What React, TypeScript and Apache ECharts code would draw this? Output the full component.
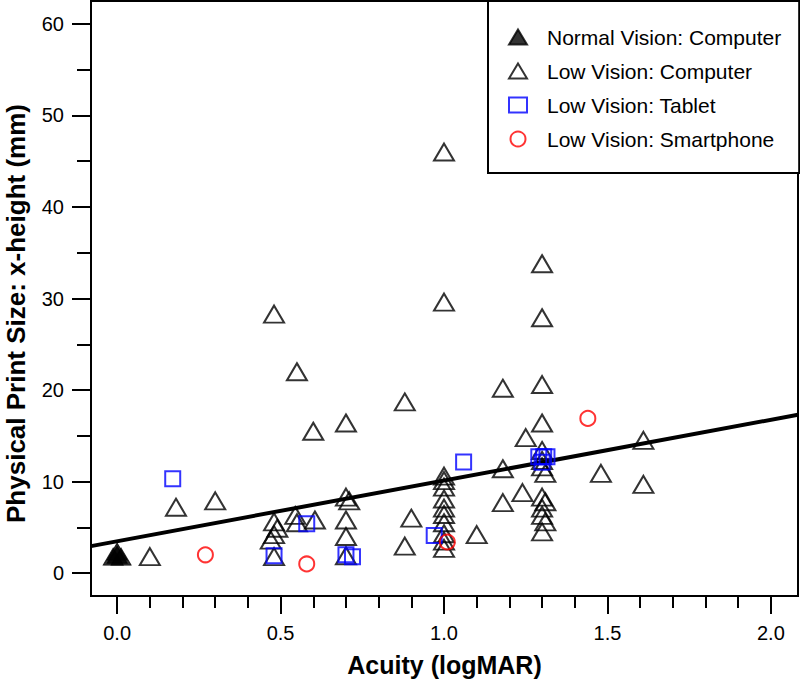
import React, { useEffect, useRef } from "react";
import * as echarts from "echarts";

// ---- data ----
const normalComputer: number[][] = [
  [0, 2.35], [-0.012, 1.8], [0.012, 1.8], [0, 2.0],
];

const lowComputer: number[][] = [
  [0.10, 1.8], [0.18, 7.2], [0.30, 7.9],
  [0.48, 28.3], [0.55, 22.0], [0.60, 15.5], [0.70, 16.4], [0.88, 18.7],
  [0.48, 5.6], [0.49, 4.9], [0.48, 4.2], [0.47, 3.6], [0.48, 1.8],
  [0.545, 6.3], [0.55, 5.5], [0.605, 5.8],
  [0.70, 8.3], [0.71, 7.9], [0.70, 5.8], [0.70, 4.0], [0.70, 1.9],
  [0.88, 2.95], [0.90, 6.0],
  [1.0, 46.0], [1.0, 29.6], [1.0, 10.6], [1.0, 10.1], [1.0, 9.4], [1.0, 8.1],
  [1.0, 7.1], [1.0, 6.4], [1.0, 5.5], [1.0, 4.3], [1.0, 3.5], [1.0, 2.7],
  [1.10, 4.2], [1.18, 7.7], [1.18, 11.4], [1.18, 20.2], [1.25, 14.8], [1.24, 8.8],
  [1.30, 33.8], [1.30, 27.9], [1.30, 20.6], [1.30, 16.4], [1.30, 13.4], [1.30, 12.3],
  [1.30, 11.6], [1.31, 10.9], [1.30, 8.3], [1.31, 7.8], [1.30, 7.1], [1.30, 6.3],
  [1.31, 5.6], [1.30, 4.5],
  [1.48, 10.9], [1.61, 14.5], [1.61, 9.7],
];

const lowTablet: number[][] = [
  [0.17, 10.3], [0.48, 1.9], [0.58, 5.4], [0.70, 2.0], [0.72, 1.8],
  [0.97, 4.1], [1.06, 12.15], [1.29, 12.7], [1.30, 12.1], [1.305, 12.7], [1.315, 12.7],
];

const lowSmartphone: number[][] = [
  [0.27, 2.0], [0.58, 1.0], [1.01, 3.4], [1.44, 16.9],
];

const fitLineX = [-0.08, 2.083];
const fitLineY = [2.95, 17.3];

const xMajorTicks = [0, 0.5, 1.0, 1.5, 2.0];
const xMinorTicks = [0.1, 0.2, 0.3, 0.4, 0.6, 0.7, 0.8, 0.9, 1.1, 1.2, 1.3, 1.4, 1.6, 1.7, 1.8, 1.9];
const yMajorTicks = [0, 10, 20, 30, 40, 50, 60];
const yMinorTicks = [5, 15, 25, 35, 45, 55];

const seriesNames = [
  "Normal Vision: Computer",
  "Low Vision: Computer",
  "Low Vision: Tablet",
  "Low Vision: Smartphone",
];

const FONT = "'Liberation Sans', Arial, Helvetica, sans-serif";

export default function App() {
  const ref = useRef<HTMLDivElement>(null);

  useEffect(() => {
    if (!ref.current) return;
    const chart = echarts.init(ref.current, undefined, { renderer: "svg" });

    const xCommon = {
      type: "value" as const,
      min: -0.08,
      max: 2.083,
      position: "bottom" as const,
      splitLine: { show: false },
      axisLine: { show: false, onZero: false },
    };
    const yCommon = {
      type: "value" as const,
      min: -2.5,
      max: 62.5,
      position: "left" as const,
      splitLine: { show: false },
      axisLine: { show: false, onZero: false },
    };

    const option: any = {
      animation: false,
      backgroundColor: "#fff",
      textStyle: { fontFamily: FONT },
      grid: {
        left: 91,
        right: 2,
        top: 1,
        bottom: 85,
        show: true,
        borderColor: "#000",
        borderWidth: 2,
        containLabel: false,
        outerBoundsMode: "none",
      },
      xAxis: [
        {
          ...xCommon,
          name: "Acuity (logMAR)",
          nameLocation: "middle",
          nameGap: 56,
          nameTextStyle: { fontSize: 25, fontWeight: "bold", color: "#000", fontFamily: FONT },
          axisTick: { show: true, length: 18, lineStyle: { color: "#000", width: 2 }, customValues: xMajorTicks },
          axisLabel: {
            show: true,
            margin: 27,
            fontSize: 20,
            color: "#000",
            fontFamily: FONT,
            customValues: xMajorTicks,
            formatter: (v: number) => v.toFixed(1),
          },
        },
        {
          ...xCommon,
          axisTick: { show: true, length: 12, lineStyle: { color: "#000", width: 2 }, customValues: xMinorTicks },
          axisLabel: { show: false },
        },
      ],
      yAxis: [
        {
          ...yCommon,
          name: "Physical Print Size: x-height (mm)",
          nameLocation: "middle",
          nameGap: 62,
          nameTextStyle: {
            fontSize: 26,
            fontWeight: "bold",
            color: "#000",
            fontFamily: FONT,
            padding: [0, 30, 0, 0],
          },
          axisTick: { show: true, length: 19, lineStyle: { color: "#000", width: 2 }, customValues: yMajorTicks },
          axisLabel: {
            show: true,
            margin: 27,
            fontSize: 20,
            color: "#000",
            fontFamily: FONT,
            customValues: yMajorTicks,
            formatter: (v: number) => String(Math.round(v)),
          },
        },
        {
          ...yCommon,
          axisTick: { show: true, length: 14, lineStyle: { color: "#000", width: 2 }, customValues: yMinorTicks },
          axisLabel: { show: false },
        },
      ],
      legend: {
        orient: "vertical",
        left: 488,
        top: 1,
        padding: [24, 18, 22, 20],
        itemWidth: 18,
        itemHeight: 15,
        itemGap: 10,
        backgroundColor: "#fff",
        borderColor: "#000",
        borderWidth: 2,
        borderRadius: 0,
        textStyle: { fontSize: 21, color: "#000", fontFamily: FONT, lineHeight: 24, padding: [0, 0, 0, 15] },
        data: [
          { name: seriesNames[0], icon: "triangle" },
          { name: seriesNames[1], icon: "triangle" },
          { name: seriesNames[2], icon: "rect" },
          { name: seriesNames[3], icon: "circle" },
        ],
      },
      series: [
        {
          name: seriesNames[1],
          type: "scatter",
          data: lowComputer,
          symbol: "triangle",
          symbolSize: [20, 17],
          itemStyle: { color: "rgba(0,0,0,0)", borderColor: "#000", borderWidth: 2 },
          z: 2,
        },
        {
          name: seriesNames[0],
          type: "scatter",
          data: normalComputer,
          symbol: "triangle",
          symbolSize: [20, 17],
          itemStyle: { color: "#000", borderColor: "#000", borderWidth: 1 },
          z: 2,
        },
        {
          name: "fit",
          type: "line",
          data: fitLineX.map((x, i) => [x, fitLineY[i]]),
          symbol: "none",
          lineStyle: { color: "#000", width: 4 },
          silent: true,
          z: 3,
        },
        {
          name: seriesNames[2],
          type: "scatter",
          data: lowTablet,
          symbol: "rect",
          symbolSize: 15,
          itemStyle: { color: "rgba(0,0,0,0)", borderColor: "#0000ff", borderWidth: 2 },
          z: 4,
        },
        {
          name: seriesNames[3],
          type: "scatter",
          data: lowSmartphone,
          symbol: "circle",
          symbolSize: 15,
          itemStyle: { color: "rgba(0,0,0,0)", borderColor: "#ff0000", borderWidth: 2 },
          z: 5,
        },
      ],
    };

    chart.setOption(option);
    return () => chart.dispose();
  }, []);

  return (
    <div
      ref={ref}
      style={{ position: "absolute", left: 0, top: 0, width: 800, height: 681, background: "#fff" }}
    />
  );
}
